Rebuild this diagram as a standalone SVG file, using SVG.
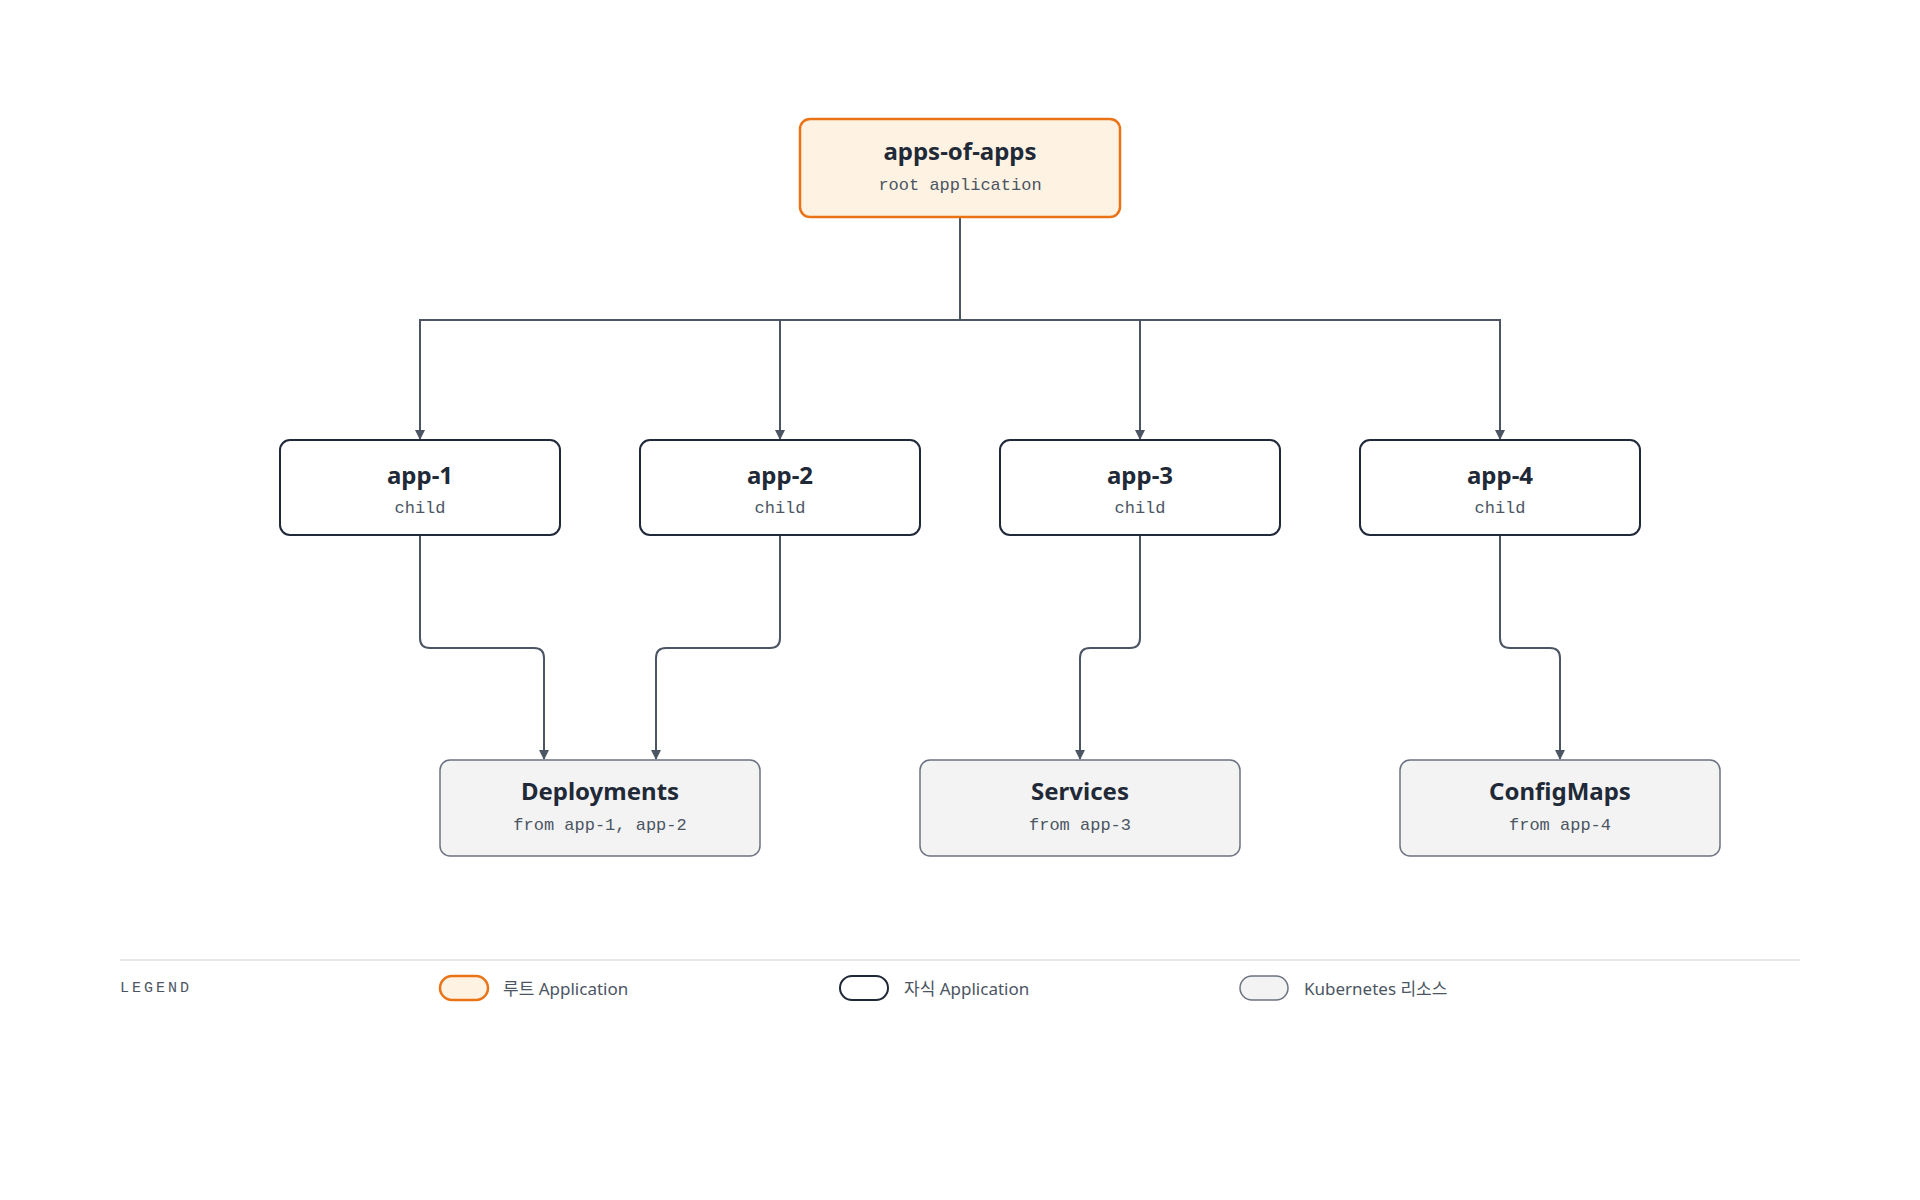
<svg xmlns="http://www.w3.org/2000/svg" width="1920" height="1200" viewBox="0 0 1920 1200">
<defs>
<marker id="arr" viewBox="0 0 10 10" refX="9" refY="5" markerWidth="10" markerHeight="10" markerUnits="userSpaceOnUse" orient="auto"><path d="M0,0 L10,5 L0,10 z" fill="#4b5563"/></marker>
</defs>
<style>
.t{font-family:"Noto Sans","Liberation Sans",sans-serif;font-weight:700;font-size:24px;fill:#1f2937;text-anchor:middle}
.s{font-family:"Liberation Mono",monospace;font-size:17px;fill:#4b5563;text-anchor:middle}
.root{fill:#fef3e2;stroke:#ea7316;stroke-width:2.5}
.child{fill:#fff;stroke:#1f2937;stroke-width:2}
.res{fill:#f3f3f3;stroke:#6b7280;stroke-width:1.5}
.c{fill:none;stroke:#4b5563;stroke-width:2;marker-end:url(#arr)}
.lg{font-family:"Noto Sans","Noto Sans CJK KR",sans-serif;font-size:17px;fill:#4b5563}
</style>
<rect width="1920" height="1200" fill="#fff"/>
<g id="connectors">
<path class="c" d="M960,217 V320 H420 V439"/>
<path class="c" d="M960,320 H780 V439"/>
<path class="c" d="M960,320 H1140 V439"/>
<path class="c" d="M960,320 H1500 V439"/>
<path class="c" d="M420,535 V638 Q420,648 430,648 H534 Q544,648 544,658 V759"/>
<path class="c" d="M780,535 V638 Q780,648 770,648 H666 Q656,648 656,658 V759"/>
<path class="c" d="M1140,535 V638 Q1140,648 1130,648 H1090 Q1080,648 1080,658 V759"/>
<path class="c" d="M1500,535 V638 Q1500,648 1510,648 H1550 Q1560,648 1560,658 V759"/>
</g>
<g id="root"><rect class="root" x="800" y="119" width="320" height="98" rx="10"/><text class="t" x="960" y="160">apps-of-apps</text><text class="s" x="960" y="190">root application</text></g>
<g id="app-1"><rect class="child" x="280" y="440" width="280" height="95" rx="10"/><text class="t" x="420" y="484">app-1</text><text class="s" x="420" y="513">child</text></g>
<g id="app-2"><rect class="child" x="640" y="440" width="280" height="95" rx="10"/><text class="t" x="780" y="484">app-2</text><text class="s" x="780" y="513">child</text></g>
<g id="app-3"><rect class="child" x="1000" y="440" width="280" height="95" rx="10"/><text class="t" x="1140" y="484">app-3</text><text class="s" x="1140" y="513">child</text></g>
<g id="app-4"><rect class="child" x="1360" y="440" width="280" height="95" rx="10"/><text class="t" x="1500" y="484">app-4</text><text class="s" x="1500" y="513">child</text></g>
<g id="deployments"><rect class="res" x="440" y="760" width="320" height="96" rx="10"/><text class="t" x="600" y="800">Deployments</text><text class="s" x="600" y="830">from app-1, app-2</text></g>
<g id="services"><rect class="res" x="920" y="760" width="320" height="96" rx="10"/><text class="t" x="1080" y="800">Services</text><text class="s" x="1080" y="830">from app-3</text></g>
<g id="configmaps"><rect class="res" x="1400" y="760" width="320" height="96" rx="10"/><text class="t" x="1560" y="800">ConfigMaps</text><text class="s" x="1560" y="830">from app-4</text></g>
<g id="legend">
<line x1="120" y1="960" x2="1800" y2="960" stroke="#e5e7eb" stroke-width="2"/>
<text x="120" y="992" style="font-family:'Liberation Mono',monospace;font-size:15px;fill:#4b5563;letter-spacing:3px">LEGEND</text>
<rect class="root" x="440" y="976" width="48" height="24" rx="12"/>
<text class="lg" x="503" y="995">루트 Application</text>
<rect class="child" x="840" y="976" width="48" height="24" rx="12"/>
<text class="lg" x="904" y="995">자식 Application</text>
<rect class="res" x="1240" y="976" width="48" height="24" rx="12"/>
<text class="lg" x="1304" y="995">Kubernetes 리소스</text>
</g>
</svg>
